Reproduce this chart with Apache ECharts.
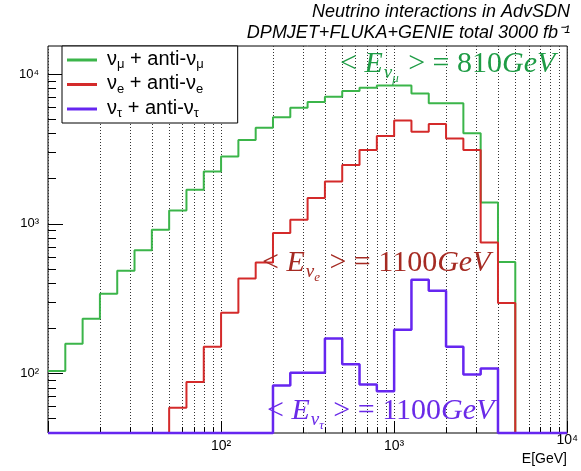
<!DOCTYPE html>
<html><head><meta charset="utf-8">
<script src="https://cdn.jsdelivr.net/npm/echarts@6/dist/echarts.min.js"></script>
<style>html,body{margin:0;padding:0;background:#fff}#c{width:581px;height:471px}</style>
</head><body><div id="c"></div>
<script>
// bin edges (log-spaced, 10 bins per decade) in GeV
const binEdges = [10, 12.59, 15.85, 19.95, 25.12, 31.62, 39.81, 50.12, 63.1, 79.43,
  100, 125.9, 158.5, 199.5, 251.2, 316.2, 398.1, 501.2, 631, 794.3,
  1000, 1259, 1585, 1995, 2512, 3162, 3981, 5012, 6310, 7943, 10000];
const numuCounts = [104, 158, 232, 341, 486, 664, 912, 1227, 1686, 2233,
  2810, 3630, 4385, 5140, 5960, 6500, 7060, 7700, 8110, 8400,
  8400, 7430, 6380, 6380, 4030, 1387, 556, 0, 0, 0];
const nueCounts = [0, 0, 0, 0, 0, 0, 0, 59, 87.5, 151,
  254, 431, 552, 867, 1063, 1486, 1914, 2473, 3115, 3853,
  4890, 4118, 4640, 3710, 3115, 750, 296, 0, 0, 0];
const nutauCounts = [0, 0, 0, 0, 0, 0, 0, 0, 0, 0,
  0, 0, 0, 83, 101, 101, 171, 115, 84.5, 76,
  196, 423, 357, 151, 98.5, 108, 0, 0, 0, 0];
const seriesNames = ['numu', 'nue', 'nutau'];
const legendLabels = {
  numu: '{g|ν}{s|μ}{g| + anti-ν}{s|μ}',
  nue: '{g|ν}{s|e}{g| + anti-ν}{s|e}',
  nutau: '{g|ν}{s|τ}{g| + anti-ν}{s|τ}'
};
const meanTexts = [
  {sub: 'μ', value: '810', color: '#1e9c45'},
  {sub: 'e', value: '1100', color: '#a52a22'},
  {sub: 'τ', value: '1100', color: '#6a2ae8'}
];
const xMajorTicks = [10, 100, 1000, 10000];
const xMinorTicks = [20, 30, 40, 50, 60, 70, 80, 90, 200, 300, 400, 500, 600, 700, 800, 900,
  2000, 3000, 4000, 5000, 6000, 7000, 8000, 9000];
const xLabelTicks = [100, 1000];
const yMajorTicks = [100, 1000, 10000];
const yMinorTicks = [50, 60, 70, 80, 90, 200, 300, 400, 500, 600, 700, 800, 900,
  2000, 3000, 4000, 5000, 6000, 7000, 8000, 9000];
const X_MIN = 10, X_MAX = 10000, Y_MIN = 40, Y_MAX = 15400;
const colors = ['#3bb54a', '#d42a2a', '#6626f0'];

const supMap = {'0':'⁰','1':'¹','2':'²','3':'³','4':'⁴','5':'⁵'};
function pow10Label(v) {
  const e = Math.round(Math.log10(v));
  return '10' + String(e).split('').map(d => supMap[d]).join('');
}
function histPoints(counts) {
  const pts = [];
  counts.forEach((c, k) => {
    const v = c > 0 ? c : Y_MIN;
    pts.push([binEdges[k], v], [binEdges[k + 1], v]);
  });
  return pts;
}
const gridStyle = {show: true, lineStyle: {color: '#333', width: 1, type: [1, 2]}};
const chart = echarts.init(document.getElementById('c'), null, {renderer: 'canvas'});
const allCounts = [numuCounts, nueCounts, nutauCounts];
const annRich = {
  op: {fontFamily: 'Liberation Serif', fontSize: 30, verticalAlign: 'top'},
  it: {fontFamily: 'Liberation Serif', fontSize: 30, fontStyle: 'italic', verticalAlign: 'top'},
  sb: {fontFamily: 'Liberation Serif', fontSize: 19, fontStyle: 'italic', verticalAlign: 'top', padding: [14, 0, 0, 1]},
  ss: {fontFamily: 'Liberation Serif', fontSize: 13, fontStyle: 'italic', verticalAlign: 'top', padding: [23, 2, 0, 0]}
};
const annPos = [[340, 49], [262, 248], [267, 396]];
const option = {
  animation: false,
  backgroundColor: '#fff',
  grid: {left: 48, right: 10, top: 46, bottom: 38, show: true, borderColor: '#000', borderWidth: 1, backgroundColor: 'transparent'},
  legend: {
    data: seriesNames, orient: 'vertical', left: 62, top: 46, selectedMode: false,
    icon: 'rect', itemWidth: 30, itemHeight: 3, itemGap: 2.5,
    padding: [3, 34, 3, 5], borderColor: '#000', borderWidth: 1, backgroundColor: '#fff',
    formatter: name => legendLabels[name],
    textStyle: {color: '#000', padding: [0, 0, 0, 5], rich: {
      g: {fontFamily: 'Liberation Sans', fontSize: 20, verticalAlign: 'top', color: '#000'},
      s: {fontFamily: 'Liberation Sans', fontSize: 13, verticalAlign: 'top', padding: [9, 0, 0, 0], color: '#000'}
    }}
  },
  xAxis: [
    {type: 'log', logBase: 10, min: X_MIN, max: X_MAX, position: 'bottom',
      axisLine: {show: false, onZero: false},
      axisTick: {show: true, inside: true, length: 12, customValues: xMajorTicks, lineStyle: {color: '#000'}},
      axisLabel: {customValues: xLabelTicks, formatter: pow10Label, fontFamily: 'Liberation Sans', fontSize: 14, color: '#000', margin: 6},
      splitLine: gridStyle},
    {type: 'log', logBase: 10, min: X_MIN, max: X_MAX, position: 'bottom',
      axisLine: {show: false, onZero: false},
      axisTick: {show: true, inside: true, length: 6, customValues: xMinorTicks, lineStyle: {color: '#000'}},
      axisLabel: {customValues: [X_MAX], formatter: pow10Label, fontFamily: 'Liberation Sans', fontSize: 14, color: '#000', margin: 0},
      splitLine: gridStyle}
  ],
  yAxis: [
    {type: 'log', logBase: 10, min: Y_MIN, max: Y_MAX, position: 'left',
      axisLine: {show: false, onZero: false},
      axisTick: {show: true, inside: true, length: 15, customValues: yMajorTicks, lineStyle: {color: '#000'}},
      axisLabel: {customValues: yMajorTicks, formatter: pow10Label, fontFamily: 'Liberation Sans', fontSize: 13, color: '#000', margin: 9},
      splitLine: {show: false}},
    {type: 'log', logBase: 10, min: Y_MIN, max: Y_MAX, position: 'left',
      axisLine: {show: false, onZero: false},
      axisTick: {show: true, inside: true, length: 8, customValues: yMinorTicks, lineStyle: {color: '#000'}},
      axisLabel: {show: false},
      splitLine: {show: false}}
  ],
  series: seriesNames.map((n, i) => ({
    name: n, type: 'line', xAxisIndex: 0, yAxisIndex: 0,
    data: histPoints(allCounts[i]), showSymbol: false, symbol: 'none', clip: false,
    color: colors[i], itemStyle: {color: colors[i]},
    lineStyle: {color: colors[i], width: i === 2 ? 2.5 : 2}
  })),
  graphic: [
    {type: 'text', x: 570, y: 12, style: {text: 'Neutrino interactions in AdvSDN', fill: '#000', fontFamily: 'Liberation Sans', fontSize: 18, fontStyle: 'italic', align: 'right', textAlign: 'right', verticalAlign: 'middle', textVerticalAlign: 'middle'}},
    {type: 'text', x: 570, y: 33, style: {text: 'DPMJET+FLUKA+GENIE total 3000 fb⁻¹', fill: '#000', fontFamily: 'Liberation Sans', fontSize: 18, fontStyle: 'italic', align: 'right', textAlign: 'right', verticalAlign: 'middle', textVerticalAlign: 'middle'}},
    {type: 'text', x: 567, y: 459, style: {text: 'E[GeV]', fill: '#000', fontFamily: 'Liberation Sans', fontSize: 14, align: 'right', textAlign: 'right', verticalAlign: 'middle', textVerticalAlign: 'middle'}}
  ].concat(meanTexts.map((m, i) => ({
    type: 'text', x: annPos[i][0], y: annPos[i][1], z: 10,
    style: {
      text: '{op|< }{it|E}{sb|ν}{ss|' + m.sub + '}{op| > = ' + m.value + '}{it|GeV}',
      rich: annRich, fill: m.color, align: 'left', textAlign: 'left', verticalAlign: 'top', textVerticalAlign: 'top'
    }
  })))
};
chart.setOption(option);
</script>
</body></html>
